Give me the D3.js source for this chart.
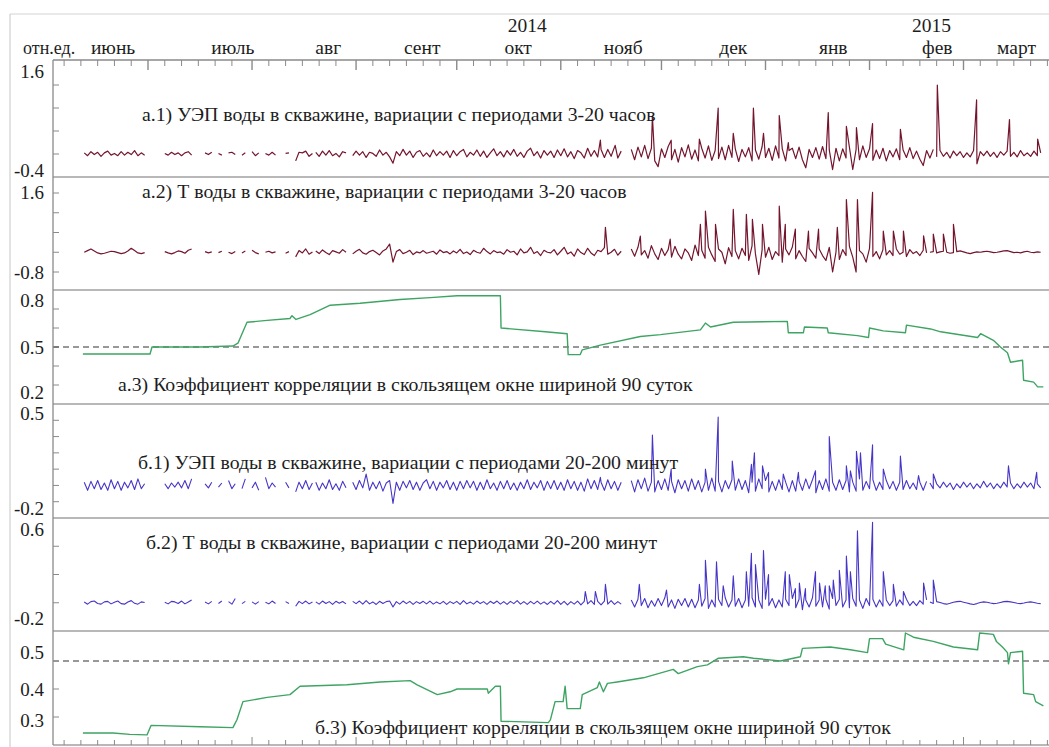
<!DOCTYPE html>
<html>
<head>
<meta charset="utf-8">
<script src="https://cdn.jsdelivr.net/npm/d3@7"></script>
<style>
  body { margin: 0; background: #fff; }
</style>
</head>
<body>
<svg width="1049" height="747"></svg>
<script>
// day numbers are counted from 2014-06-01 (day 0)
const monthNames = ['июнь', 'июль', 'авг', 'сент', 'окт', 'нояб', 'дек', 'янв', 'фев', 'март'];
const monthLabelDays = [19.6, 55.3, 83.7, 111.7, 140.3, 171.6, 204.4, 234.2, 265.2, 288.8];
const yearNames = ['2014', '2015'];
const yearLabelDays = [143, 263.5];

const titles = [
  'а.1) УЭП воды в скважине, вариации с периодами 3-20 часов',
  'а.2) Т воды в скважине, вариации с периодами 3-20 часов',
  'а.3) Коэффициент корреляции в скользящем окне шириной 90 суток',
  'б.1) УЭП воды в скважине, вариации с периодами 20-200 минут',
  'б.2) Т воды в скважине, вариации с периодами 20-200 минут',
  'б.3) Коэффициент корреляции в скользящем окне шириной 90 суток'
];

// daily values, segments of [first day, values]; null = no data
const uepHours = [
  [11, [.02,-.03,.04,-.01,.03,-.04,.02,.05,-.02,.01,-.03,.04,-.02,.03,-.01,.06,-.03,.02,-.02]],
  [35, [.01,-.02,.03,-.01,.02,-.03,.02,.04,-.02]],
  [45, [-.06]],
  [47, [.02,-.01,.03,null,.01,-.02,null,.02,.03,-.01,null,-.02,.02,null,.04,-.03,.02,null,.01,-.02,.03,-.02,null,null,.01,.02,null,-.12,.03,.02,.05,-.04,.01]],
  [80, [.03,-.04,.05,-.02,.06,-.03,.01,-.05,.04,.02]],
  [91, [-.03,.05,-.02,.04,-.06,.03,.01,-.04,.07,-.02,.03,-.05, -.16,
        .04,-.03,.08,-.02,.05,-.06,.03,.06,-.04,.02,-.05,.07,-.03,.04,-.02,.05,-.06,
        .06,-.03,.04,.08,-.05,.03,-.02,.07,-.04,.05,-.06,.02,.09,-.03,.04,
        -.05,.06,-.02,.08,-.04,.03,-.06,.05,.1,-.03,.04,-.07,.06,-.02,.05,
        -.06,.07,-.03,.09,-.05,.04,-.08,.06,.02,-.07,.1,-.04,.06,-.05,.08,-.06,.08,-.04,.12,-.07,.05]],
  [174, [.08,-.1,.12,-.05,.15,-.08,.1,-.12,-.22,.09,
         -.06,.13,-.1,.08,-.14,.11,-.05,.16,-.09,.07,-.12,.1,-.07,.14,-.11,.06,-.08,
         .12,-.1,.15,-.06,.09,-.13,.08,-.05,.11,-.12,.07,-.09,.13,-.06,.1,
         -.11,.14,-.07,.09,-.12,.06,.1,-.08,.12,-.1,-.24,.08,-.06,.11,-.09,
         .13,-.08,.07,-.27,.1,-.12,.09,-.07,.12,-.27,.08,-.1,.14,-.06,.09,
         -.11,.07,-.08,.1,-.12,.06,-.05,.09,-.1,.07,-.06,.11,-.08,.05,-.09,-.2,.06,-.07,.08]],
  [265, [-.05,.06,-.04,.03,-.07,.05,-.03,.04,-.06,.02,-.05,.06,-.17,.04,-.03,.05,-.04,.03,-.06,.04,-.02,.05,-.04,.03,-.05,.06,-.03,.02,-.04,.05,-.03,.02]]
];
const uepHoursPeakDays = [164.8,169.2,180.3,185.9,194.3,199.9,204.4,210.4,213.4,218.1,220.8,232.7,238.1,241.1,245.9,254.2,265.2,276.9,286.7,295.1];
const uepHoursPeaks    = [.24,.15,.66,.24,.26,.8,.36,.8,.36,.67,.2,.72,.48,.46,.53,.43,1.2,.94,.6,.26];

const tempHours = [
  [11, [-.2,-.15,-.1,-.16,-.22,-.25,-.23,-.2,-.17,-.18,-.21,-.24,-.22,-.16,-.08,-.15,-.22,-.24,-.21]],
  [35, [-.18,-.22,-.25,-.21,-.16,-.18,-.23,-.14,-.1]],
  [45, [-.38]],
  [47, [-.18,-.22,-.19,null,-.21,-.17,null,-.2,-.24,-.18,null,-.22,-.16,null,-.14,-.21,-.25,null,-.2,-.17,-.22,-.19,null,null,-.23,-.18,null,-.34,-.15,-.22,-.1,-.26,-.19]],
  [80, [-.16,-.24,-.13,-.21,-.27,-.15,-.19,-.23,-.12,-.2]],
  [91, [-.25,-.17,-.11,-.22,-.26,-.18,-.14,-.21,-.28,-.16,-.1,.05, -.5,
        -.18,-.12,-.24,-.2,-.14,-.27,-.19,-.22,-.15,-.23,-.2,-.17,-.26,-.13,-.21,-.18,-.25,
        -.16,-.22,-.11,-.24,-.19,-.27,-.14,-.2,-.23,-.08,-.18,-.25,-.15,-.21,-.19,
        -.26,-.12,-.2,-.17,-.28,-.1,-.22,-.19,-.05,-.24,-.18,-.3,-.14,-.2,-.22,
        -.12,-.28,-.17,-.05,-.25,-.19,-.32,-.1,-.21,-.27,-.08,-.22,-.3,-.14,-.18,-.06,-.26,-.2,-.11,-.29,-.17]],
  [174, [-.1,-.32,-.05,-.28,-.15,-.38,0,-.25,-.42,-.08,-.3,-.12,-.35,-.02,-.26,-.4,-.1,
         -.22,-.45,.02,-.3,-.14,-.38,-.05,-.28,-.48,-.1,-.2,-.55,-.06,-.33,-.15,
         -.4,-.08,-.3,-.45,0,-.25,-.87,-.12,-.35,-.05,-.42,-.18,-.3,-.5,-.1,
         -.28,-.04,-.4,-.15,-.33,-.48,-.08,-.22,-.38,-.1,-.3,-.45,-.05,-.8,-.2,
         -.42,-.12,-.3,-.02,-.35,-.8,-.15,-.25,-.5,-.08,-.33,-.18,-.4,-.12,-.28,
         -.15,-.3,-.1,-.26,-.2,-.33,-.12,-.24,-.18,-.3,-.14,-.22]],
  [263, [-.2,-.18,-.22,-.19,-.17,-.2,-.23,-.21,-.18,-.16,-.19,-.22,-.24,-.21,-.19,-.2,-.18,-.17,-.19,-.21,-.2,-.18,-.16,-.15,-.18,-.21,-.2,-.22,-.19,-.17,-.2,-.21,-.19,-.2]]
];
const tempHoursPeakDays = [166.3,176.7,185.6,194.6,196.1,199.1,204.4,208.3,210.1,213.1,218.1,219.9,222.9,226.8,229.8,235.4,238.1,241.4,245.9,249.1,252.1,255.1,261.1,264,267,270];
const tempHoursPeaks    = [.56,.29,.2,.65,1.05,.65,1.1,.95,.8,.65,1.2,.65,.5,.44,.5,.56,1.4,1.4,1.62,.44,.44,.44,.3,.35,.35,.65];

const corrHoursDays = [10.6,30.6,31.2,45.5,55.3,56.8,59.5,65.5,72.3,72.9,74.1,78.3,84.3,93.2,105.1,114.1,122.1,135,135.2,148.4,154.9,155.2,158.8,159.4,164.8,176.7,182.7,194.6,196.1,197.6,204.4,220.5,220.8,225.3,225.6,232.4,232.7,241.4,244.7,245,249.1,255.7,256,263.2,266.2,277.2,278.1,281.9,284,286.1,287,290.6,290.9,293.9,295.1,296.8];
const corrHours     = [.463,.463,.5,.5,.505,.52,.63,.64,.65,.665,.645,.67,.72,.73,.75,.76,.77,.77,.6,.58,.57,.46,.46,.485,.51,.555,.565,.59,.626,.605,.63,.635,.575,.575,.605,.6,.575,.56,.55,.6,.585,.575,.615,.595,.58,.55,.57,.535,.5,.47,.42,.43,.325,.315,.29,.29];

const uepMin = [
  [11, [.02,-.03,.025,-.02,.03,-.025,.015,-.03,.035,-.02,.025,-.03,.02,-.015,.03,-.025,.04,-.02,.01]],
  [35, [.01,-.02,.015,-.01,.02,-.015,.03,-.02,.04]],
  [45, [-.03]],
  [47, [.01,-.015,.02,null,-.01,.015,null,.03,-.02,.01,null,-.02,.04,null,-.015,.02,-.03,null,.05,-.02,.015,-.01,null,null,.02,-.015,null,-.04,.02,-.02,.03,-.025,.015]],
  [80, [.02,-.03,.015,-.02,.035,-.025,.01,-.03,.025,-.015]],
  [91, [.02,-.025,.03,-.015,.07,-.03,.02,-.02,.025,-.035,.015,.03, -.11,
        .02,-.03,.025,-.015,.03,-.025,.02,-.03,.015,.035,-.02,.025,-.03,.02,-.015,.03,-.025,
        .02,-.03,.025,-.02,.03,-.015,.025,-.03,.02,-.025,.035,-.02,.015,-.03,.025,
        -.02,.03,-.025,.015,-.03,.02,-.02,.035,-.025,.02,-.015,.03,-.03,.025,-.02,
        .03,-.025,.02,-.03,.035,-.02,.025,-.03,.02,-.035,.04,-.02,.03,-.025,.02,-.03,.035,-.02,.025,-.03,.02]],
  [174, [.03,-.04,.035,-.02,.045,-.035,.02,-.04,.03,-.025,.04,-.03,.025,-.045,.035,-.02,.03,
         -.035,.04,-.025,.03,-.04,.02,-.03,.045,-.035,.025,-.04,.03,-.02,.035,-.03,
         .04,-.025,.03,-.045,.02,-.035,.04,-.02,.03,-.04,.025,-.03,.035,-.025,.02,
         -.04,.03,-.035,.025,-.03,.04,-.02,.035,-.045,.03,-.025,.04,-.035,.02,-.03,
         .035,-.025,.03,-.04,.02,-.035,.04,-.03,.025,-.02,.035,-.03,.02,-.025,.03,
         -.02,.025,-.03,.02,-.025,.03,-.02,.015,-.025,.02,-.03,.025]],
  [263, [.015,-.02,.01,-.015,.02,-.01,.015,-.025,.01,-.015,.02,-.01,.015,-.02,.01,-.015,.025,-.01,.015,-.02,.01,-.015,.02,-.01,.015,-.02,.01,-.015,.02,-.01,.015,-.02,.01,-.015]]
];
const uepMinPeakDays = [164.8,180.3,185.9,196.1,199.9,204.1,209.8,210.7,213.1,214.9,219.3,223.8,228.9,233,238.1,239.3,241.1,242.3,245.9,249.1,254.2,259.6,264,286.4,294.8];
const uepMinPeaks    = [.05,.31,.1,.1,.42,.15,.13,.2,.12,.08,.07,.08,.09,.3,.12,.09,.21,.2,.25,.1,.18,.06,.07,.12,.08];

const tempMin = [
  [11, [.005,-.01,.008,.012,-.005,-.01,.006,.01,-.008,.004,.012,-.006,-.01,.005,.015,-.004,-.01,.006,.002]],
  [35, [.004,-.008,.01,.006,-.005,.012,-.008,.005,.02]],
  [45, [-.02]],
  [47, [.005,-.008,.01,null,-.005,.012,null,.008,-.01,.03,null,-.006,.01,null,.006,-.01,.008,null,.004,-.008,.012,-.005,null,null,.008,-.006,null,-.025,.01,-.006,.012,-.008,.005]],
  [80, [.006,-.01,.012,-.005,.008,-.012,.01,-.004,.009,-.008]],
  [91, [.01,-.006,.012,-.01,.015,-.008,.006,-.012,.01,-.005,.008,.012, -.03,
        .008,-.01,.012,-.006,.01,-.012,.008,-.005,.01,-.008,.012,-.01,.006,-.008,.01,-.012,.008,
        -.006,.01,-.012,.015,-.008,.006,-.01,.012,-.006,.008,-.012,.01,-.005,.012,-.01,
        .008,-.012,.01,-.006,.015,-.01,.008,-.012,.01,-.008,.012,-.01,.006,-.012,.01,
        -.01,.015,-.012,.01,-.015,.008,-.01,.012,-.015,.01,-.008,.015,-.012,.01,-.015,.012,-.01,.015,-.012,.008,-.01]],
  [174, [.02,-.03,.025,-.02,.03,-.035,.015,-.025,.03,-.02,.035,-.03,.02,-.04,.025,-.02,.03,
         -.03,.025,-.035,.02,-.025,.03,-.04,.02,-.03,.025,-.02,.035,-.03,.02,-.025,
         .03,-.035,.02,-.025,.035,-.03,.02,-.04,.025,-.02,.03,-.035,.02,-.03,.025,
         -.02,.03,-.035,.025,-.05,.02,-.03,.035,-.025,.02,-.03,.025,-.045,.03,-.02,
         .025,-.03,.02,-.035,.03,-.025,.02,-.04,.03,-.02,.025,-.03,.02,-.025,.02,
         -.02,.015,-.025,.02,-.015,.025,-.02,.01,-.02,.015,-.01,.02]],
  [263, [.005,-.005,.008,.002,-.006,-.01,-.004,.004,.008,.01,.004,-.002,-.008,-.012,-.006,.002,.006,.004,-.002,-.006,-.004,.002,.008,.01,.006,.002,-.004,-.006,-.002,.004,.006,.002,-.004,-.006]]
];
const tempMinPeakDays = [160.3,163.3,166.3,176.4,184.5,194.3,196.1,199.4,201.4,204.4,208.3,209.8,211,213.4,214.9,219.9,221.1,222.9,224.1,225.9,228.9,230.1,231.8,233,234.2,236,238.1,239.3,241.4,245.9,249.1,252.1,255.1,261.1,264];
const tempMinPeaks    = [.08,.08,.13,.13,.09,.13,.3,.29,.12,.19,.22,.35,.27,.37,.2,.22,.2,.1,.14,.1,.22,.14,.12,.12,.16,.23,.33,.22,.51,.57,.22,.13,.08,.14,.16];

const corrMinDays = [10.6,19.6,24.6,29.7,30.9,45.5,55.3,56.5,58.3,65.5,72.3,75.3,89.3,99.2,108.1,110.2,116.2,120,122.1,131.1,131.4,133.5,135,135.2,149.3,149.9,151.3,153.7,154.3,154.9,158.8,159.4,163.9,164.5,165.7,166.9,169.8,177.6,186.5,188,193.7,196.7,200,207.4,210.4,218.4,224.4,225,233.3,239.3,244.4,245,248.9,249.8,255.2,255.7,258.1,264,270,277.2,277.8,281.9,282.8,284.6,286.1,286.4,287,290.6,290.9,293.9,294.5,296.8];
const corrMin     = [.243,.243,.238,.236,.27,.265,.262,.29,.355,.37,.38,.41,.415,.425,.43,.415,.38,.39,.4,.4,.385,.41,.41,.285,.28,.29,.355,.355,.41,.33,.33,.38,.405,.425,.39,.42,.425,.44,.47,.455,.48,.486,.51,.515,.51,.5,.515,.545,.55,.54,.53,.58,.58,.56,.54,.6,.585,.57,.55,.54,.6,.595,.57,.55,.53,.49,.53,.535,.385,.38,.355,.34];

// ---------------------------------------------------------------
const serif = '"Liberation Serif", "Times New Roman", Tinos, "DejaVu Serif", serif';
const svg = d3.select('svg').attr('font-family', serif);
const plotLeft = 53, plotRight = 1049;
const t0 = Date.UTC(2014, 5, 1);
const dayDate = d => new Date(t0 + d * 864e5);

const x = d3.scaleUtc()
  .domain([new Date(Date.UTC(2014, 6, 1)), new Date(Date.UTC(2015, 2, 1))])
  .range([148, 963.5]);
const xd = d => x(dayDate(d));

const redLine = '#74152e';
const blueLine = '#4636c8';
const greenLine = '#3ea463';
const ink = '#1d1d1d';

const panels = [
  { top: 60,  bottom: 177, domain: [-0.4, 1.6], range: [177, 62],  ticks: [0, 0.4, 0.8, 1.2],
    labels: [[1.6, 9], [-0.4, -7]], title: [142, 121] },
  { top: 177, bottom: 290, domain: [-0.8, 1.6], range: [272, 193], ticks: [1.6, 1.0, 0.4, -0.2, -0.8],
    labels: [[1.6, -1], [-0.8, 0]], title: [142, 198] },
  { top: 290, bottom: 404, domain: [0.2, 0.8], range: [404, 290], ticks: [0.3, 0.4, 0.5, 0.6, 0.7],
    labels: [[0.8, 10], [0.5, 0], [0.2, -12]], title: [118, 391], dashed: 0.5 },
  { top: 404, bottom: 518, domain: [-0.2, 0.5], range: [518, 404], ticks: [-0.1, 0, 0.1, 0.2, 0.3, 0.4],
    labels: [[0.5, 9], [-0.2, -10]], title: [138, 469] },
  { top: 518, bottom: 631, domain: [-0.2, 0.6], range: [631, 518], ticks: [0, 0.2, 0.4],
    labels: [[0.6, 11], [-0.2, -13]], title: [146, 549] },
  { top: 631, bottom: 745, domain: [0.3, 0.5], range: [717, 661], ticks: [0.3, 0.4],
    labels: [[0.5, -9], [0.4, 0], [0.3, 3]], title: [315, 734], dashed: 0.5 }
];
panels.forEach(p => { p.y = d3.scaleLinear().domain(p.domain).range(p.range); });

// series -> point list (gaps as null values)
function noisePoints(segments, peakDays, peaks) {
  const pts = [];
  segments.forEach(([start, vals]) => {
    vals.forEach((v, i) => pts.push({ d: start + i, v }));
    pts.push({ d: start + vals.length - 0.5, v: null });
  });
  peakDays.forEach((d, i) => pts.push({ d, v: peaks[i] }));
  return pts.sort((a, b) => a.d - b.d);
}
const stepPoints = (days, vals) => days.map((d, i) => ({ d, v: vals[i] }));

const seriesByPanel = [
  { pts: noisePoints(uepHours, uepHoursPeakDays, uepHoursPeaks), color: redLine, w: 1.2 },
  { pts: noisePoints(tempHours, tempHoursPeakDays, tempHoursPeaks), color: redLine, w: 1.2 },
  { pts: stepPoints(corrHoursDays, corrHours), color: greenLine, w: 1.4 },
  { pts: noisePoints(uepMin, uepMinPeakDays, uepMinPeaks), color: blueLine, w: 1.1 },
  { pts: noisePoints(tempMin, tempMinPeakDays, tempMinPeaks), color: blueLine, w: 1.1 },
  { pts: stepPoints(corrMinDays, corrMin), color: greenLine, w: 1.4 }
];

const addText = (sel, size) => sel.append('text')
  .attr('font-family', serif).attr('font-size', size).attr('fill', ink);

// outer frame
svg.append('line').attr('x1', 10).attr('x2', plotRight).attr('y1', 14).attr('y2', 14)
  .attr('stroke', '#d4d4d4').attr('stroke-width', 1.2);
svg.append('line').attr('x1', 10).attr('x2', 10).attr('y1', 14).attr('y2', 747)
  .attr('stroke', '#cfcfcf').attr('stroke-width', 1.2);

panels.forEach((p, i) => {
  const g = svg.append('g');

  g.append('line').attr('x1', plotLeft).attr('x2', plotRight)
    .attr('y1', p.bottom).attr('y2', p.bottom)
    .attr('stroke', '#a0a0a0').attr('stroke-width', 1.5);

  g.selectAll('.yt').data(p.ticks).enter().append('line')
    .attr('x1', plotLeft).attr('x2', plotLeft + 6)
    .attr('y1', d => p.y(d)).attr('y2', d => p.y(d))
    .attr('stroke', '#8a8a8a').attr('stroke-width', 1);

  p.labels.forEach(([v, dy]) => {
    addText(g, 19)
      .attr('x', 44).attr('y', p.y(v) + dy)
      .attr('dy', '0.35em').attr('text-anchor', 'end')
      .text(d3.format('.1f')(v).replace('−', '-'));
  });

  if (p.dashed !== undefined) {
    g.append('line').attr('x1', plotLeft).attr('x2', plotRight)
      .attr('y1', p.y(p.dashed)).attr('y2', p.y(p.dashed))
      .attr('stroke', '#333').attr('stroke-width', 1.2)
      .attr('stroke-dasharray', '6,4');
  }

  const s = seriesByPanel[i];
  const line = d3.line()
    .defined(d => d.v !== null)
    .x(d => xd(d.d))
    .y(d => p.y(d.v));
  g.append('path').datum(s.pts)
    .attr('fill', 'none').attr('stroke', s.color)
    .attr('stroke-width', s.w).attr('stroke-linejoin', 'round')
    .attr('d', line);

  addText(g, 19.8)
    .attr('x', p.title[0]).attr('y', p.title[1])
    .text(titles[i]);
});

// left axis
svg.append('line').attr('x1', plotLeft).attr('x2', plotLeft).attr('y1', 60).attr('y2', 745)
  .attr('stroke', '#8a8a8a').attr('stroke-width', 1.3);

// top and bottom time axes
const tickDays = d3.utcDay.range(x.invert(plotLeft + 1), x.invert(plotRight))
  .filter(t => [1, 6, 11, 16, 21, 26].includes(t.getUTCDate()));
const isMajor = t => t.getUTCDate() === 1;

svg.append('line').attr('x1', plotLeft).attr('x2', plotRight).attr('y1', 60).attr('y2', 60)
  .attr('stroke', '#8a8a8a').attr('stroke-width', 1.3);
svg.selectAll('.xt').data(tickDays).enter().append('line')
  .attr('x1', d => x(d)).attr('x2', d => x(d))
  .attr('y1', 60).attr('y2', d => 60 + (isMajor(d) ? 10 : 6))
  .attr('stroke', '#8a8a8a').attr('stroke-width', d => isMajor(d) ? 1.4 : 1);
svg.selectAll('.xb').data(tickDays).enter().append('line')
  .attr('x1', d => x(d)).attr('x2', d => x(d))
  .attr('y1', 745).attr('y2', d => 745 - (isMajor(d) ? 8 : 5))
  .attr('stroke', '#8a8a8a').attr('stroke-width', 1);

monthNames.forEach((m, i) => {
  addText(svg, 19.5).attr('x', xd(monthLabelDays[i])).attr('y', 54)
    .attr('text-anchor', 'middle').text(m);
});
yearNames.forEach((yv, i) => {
  addText(svg, 19.5).attr('x', xd(yearLabelDays[i])).attr('y', 32)
    .attr('text-anchor', 'middle').text(yv);
});

addText(svg, 18).attr('x', 23).attr('y', 54).text('отн.ед.');
</script>
</body>
</html>
